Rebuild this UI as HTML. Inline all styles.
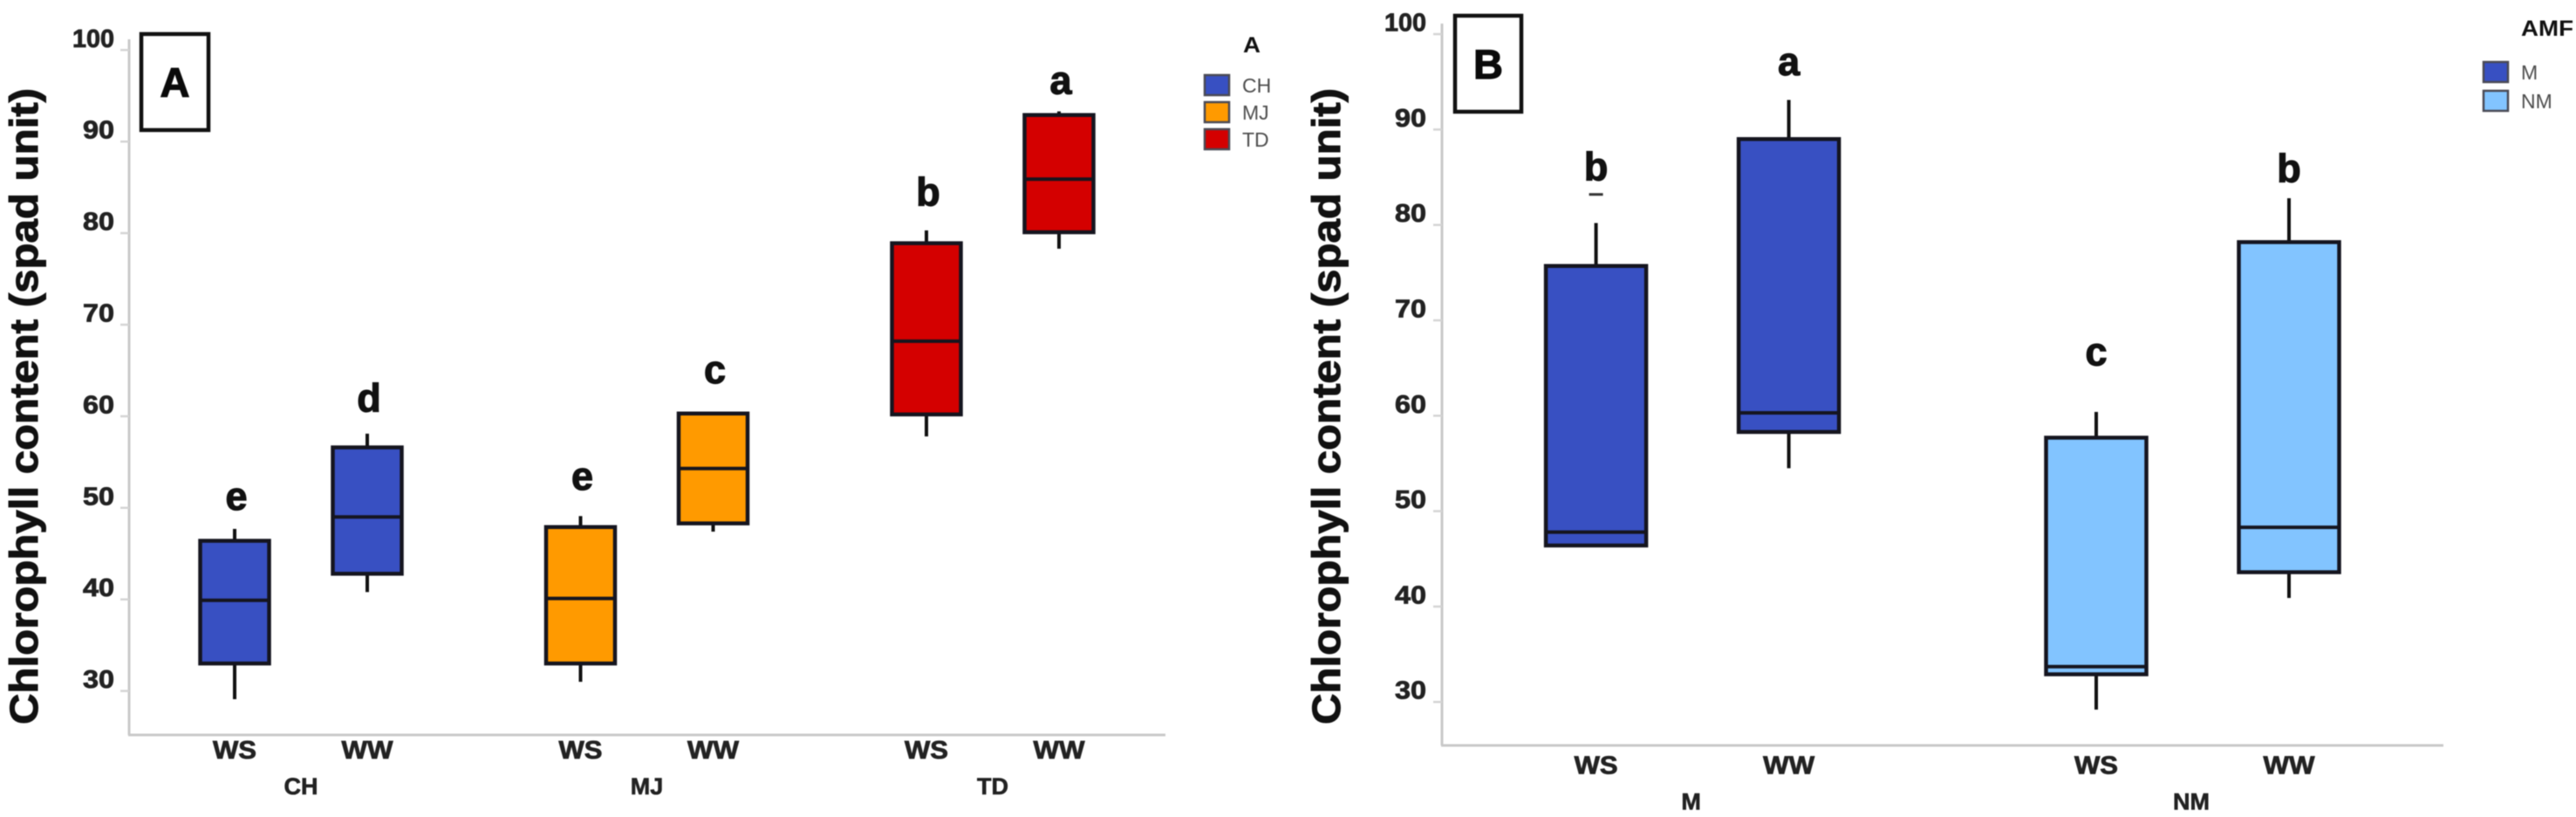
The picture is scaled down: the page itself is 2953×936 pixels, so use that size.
<!DOCTYPE html>
<html lang="en">
<head>
<meta charset="utf-8">
<title>Chlorophyll content boxplots</title>
<style>
html,body{margin:0;padding:0;background:#fff;width:2953px;height:936px;overflow:hidden}
svg{display:block;filter:blur(0.6px)}
text{font-family:"Liberation Sans",Arial,sans-serif}
</style>
</head>
<body>
<svg id="figure" xmlns="http://www.w3.org/2000/svg" width="2953" height="936" viewBox="0 0 2953 936"></svg>
<script>
var yTickLabels = [30, 40, 50, 60, 70, 80, 90, 100];

var aGroups = ['CH', 'MJ', 'TD'];
var aTreatments = ['WS', 'WW'];
var aLow = [29.1, 40.8, 31.0, 47.4, 57.8, 78.3];
var aQ1 = [33.0, 42.8, 33.0, 48.3, 60.2, 80.1];
var aMedian = [39.9, 49.0, 40.1, 54.3, 68.2, 85.9];
var aQ3 = [46.4, 56.6, 47.9, 60.3, 78.9, 92.9];
var aHigh = [47.7, 58.1, 49.1, 60.3, 80.3, 93.3];
var aLetters = ['e', 'd', 'e', 'c', 'b', 'a'];
var aLetterLevels = [49.8, 60.5, 52.0, 63.6, 83.0, 95.2];

var bGroups = ['M', 'NM'];
var bTreatments = ['WS', 'WW'];
var bLow = [46.4, 54.5, 29.2, 40.9];
var bQ1 = [46.4, 58.3, 32.9, 43.6];
var bMedian = [47.8, 60.3, 33.7, 48.3];
var bQ3 = [75.7, 89.0, 57.7, 78.2];
var bHigh = [80.2, 93.1, 60.4, 82.8];
var bOutliers = [83.2, null, null, null];
var bLetters = ['b', 'a', 'c', 'b'];
var bLetterLevels = [84.7, 95.7, 65.3, 84.5];

var SVG_NS = 'http://www.w3.org/2000/svg';
var root = document.getElementById('figure');

function make(tag, parent, name, attrs) {
  var el = document.createElementNS(SVG_NS, tag);
  
  
  for (var k in attrs) { el.setAttribute(k, attrs[k]); }
  parent.appendChild(el);
  return el;
}
function label(parent, name, str, x, y, size, opts) {
  opts = opts || {};
  var attrs = {
    x: x, y: y, 'font-size': size,
    'font-weight': opts.weight || 'bold',
    'text-anchor': opts.anchor || 'middle',
    fill: opts.fill || '#1a1a1a'
  };
  if (opts.heavy) {
    attrs.stroke = attrs.fill;
    attrs['stroke-width'] = opts.heavy;
  }
  if (opts.len) {
    attrs.textLength = opts.len;
    attrs.lengthAdjust = 'spacingAndGlyphs';
  }
  if (opts.transform) { attrs.transform = opts.transform; }
  var el = make('text', parent, name, attrs);
  el.textContent = str;
  return el;
}

function drawPanel(cfg) {
  var g = make('g', root, cfg.id + '-panel', {});
  function y(v) { return cfg.y30 - (v - 30) * cfg.yPerUnit; }
  function x(groupIndex, subIndex) { return cfg.x0 + cfg.groupStep * groupIndex + cfg.subStep * subIndex; }

  make('line', g, cfg.id + '-y-axis', {x1: cfg.axisX, x2: cfg.axisX, y1: cfg.axisTop, y2: cfg.axisBottom, stroke: '#c9c9c9', 'stroke-width': 3});
  make('line', g, cfg.id + '-x-axis', {x1: cfg.axisX - 1, x2: cfg.axisRight, y1: cfg.axisBottom, y2: cfg.axisBottom, stroke: '#c9c9c9', 'stroke-width': 3});

  yTickLabels.forEach(function (t) {
    make('line', g, cfg.id + '-y-tick-' + t, {x1: cfg.axisX - 10, x2: cfg.axisX, y1: y(t), y2: y(t), stroke: '#d4d4d4', 'stroke-width': 2.5});
    label(g, cfg.id + '-y-tick-label-' + t, String(t), cfg.labelRight, y(t) - 3.5, 29, {anchor: 'end', fill: '#222', len: t === 100 ? 48 : 36, heavy: 0.8});
  });

  label(g, cfg.id + '-y-axis-title', 'Chlorophyll content (spad unit)', cfg.titleX, 830, 45, {anchor: 'start', fill: '#111', len: 729, heavy: 1, transform: 'rotate(-90 ' + cfg.titleX + ' 830)'});

  cfg.groups.forEach(function (name, gi) {
    cfg.treatments.forEach(function (tr, si) {
      var i = gi * cfg.treatments.length + si;
      var cx = x(gi, si);
      var box = make('g', g, cfg.id + '-box-' + name + '-' + tr, {});
      var hw = cfg.boxWidth / 2;
      var fill = cfg.colors[cfg.colorIndex(gi)];
      make('line', box, 'whisker-low', {x1: cx, x2: cx, y1: y(cfg.q1[i]), y2: y(cfg.low[i]), stroke: '#111', 'stroke-width': 4});
      make('line', box, 'whisker-high', {x1: cx, x2: cx, y1: y(cfg.q3[i]), y2: y(cfg.high[i]), stroke: '#111', 'stroke-width': 4});
      make('rect', box, 'box-body', {x: cx - hw, y: y(cfg.q3[i]), width: cfg.boxWidth, height: y(cfg.q1[i]) - y(cfg.q3[i]), fill: fill, stroke: '#15151f', 'stroke-width': 4.5});
      make('line', box, 'median-line', {x1: cx - hw, x2: cx + hw, y1: y(cfg.median[i]), y2: y(cfg.median[i]), stroke: '#15151f', 'stroke-width': 4});
      if (cfg.outliers && cfg.outliers[i] !== null) {
        make('line', box, 'outlier-mark', {x1: cx - 8, x2: cx + 8, y1: y(cfg.outliers[i]), y2: y(cfg.outliers[i]), stroke: '#333', 'stroke-width': 3});
      }
      label(g, cfg.id + '-significance-' + name + '-' + tr, cfg.letters[i], cx + cfg.letterDx, y(cfg.letterLevels[i]), 45, {fill: '#111', heavy: 1.2});
      label(g, cfg.id + '-x-tick-' + name + '-' + tr, tr, cx, cfg.tickBaseline, 29, {fill: '#222', len: tr === 'WS' ? 50 : 59, heavy: 0.8});
    });
    var groupX = (x(gi, 0) + x(gi, 1)) / 2 + cfg.groupDx;
    label(g, cfg.id + '-group-label-' + name, name, groupX, cfg.groupBaseline, 27, {fill: '#222', heavy: 0.6});
  });

  make('rect', g, cfg.id + '-panel-tag-box', {x: cfg.tag.x, y: cfg.tag.y, width: cfg.tag.w, height: cfg.tag.h, fill: '#fff', stroke: '#111', 'stroke-width': 4.5});
  label(g, cfg.id + '-panel-tag', cfg.tag.text, cfg.tag.x + cfg.tag.w / 2, cfg.tag.y + cfg.tag.h / 2 + 17, 47, {fill: '#0a0a0a', heavy: 1.2});

  var legend = make('g', g, cfg.id + '-legend', {});
  label(legend, cfg.id + '-legend-title', cfg.legend.title, cfg.legend.titleX, cfg.legend.titleY, 25, {fill: '#111', anchor: 'start', len: cfg.legend.titleLen});
  cfg.legend.items.forEach(function (it, k) {
    var top = cfg.legend.y0 + k * cfg.legend.step;
    make('rect', legend, cfg.id + '-legend-swatch-' + it, {x: cfg.legend.x, y: top, width: 28, height: 23, fill: cfg.colors[k], stroke: '#4a4a55', 'stroke-width': 2.5});
    label(legend, cfg.id + '-legend-label-' + it, it, cfg.legend.textX, top + 20, 23, {anchor: 'start', weight: 'normal', fill: '#4d4d4d'});
  });
}

drawPanel({
  id: 'panel-a', y30: 791.6, yPerUnit: 10.49,
  x0: 269, groupStep: 396.5, subStep: 152,
  axisX: 148, axisTop: 45, axisBottom: 842, axisRight: 1336,
  labelRight: 131, titleX: 43, boxWidth: 79, letterDx: 2,
  tickBaseline: 869, groupBaseline: 910, groupDx: 0,
  groups: aGroups, treatments: aTreatments,
  colors: ['#3850c2', '#ff9a00', '#d40000'],
  colorIndex: function (gi) { return gi; },
  low: aLow, q1: aQ1, median: aMedian, q3: aQ3, high: aHigh,
  letters: aLetters, letterLevels: aLetterLevels,
  tag: {x: 162, y: 39, w: 77, h: 110, text: 'A'},
  legend: {title: 'A', titleX: 1425, titleY: 60, titleLen: 20, items: aGroups, x: 1381, y0: 86, step: 31, textX: 1424}
});

drawPanel({
  id: 'panel-b', y30: 804.2, yPerUnit: 10.93,
  x0: 1829.6, groupStep: 573.4, subStep: 221,
  axisX: 1653, axisTop: 27, axisBottom: 854, axisRight: 2801,
  labelRight: 1635, titleX: 1536, boxWidth: 115, letterDx: 0,
  tickBaseline: 886.5, groupBaseline: 927.6, groupDx: -1.5,
  groups: bGroups, treatments: bTreatments,
  colors: ['#3850c2', '#82c4ff'],
  colorIndex: function (gi) { return gi; },
  low: bLow, q1: bQ1, median: bMedian, q3: bQ3, high: bHigh, outliers: bOutliers,
  letters: bLetters, letterLevels: bLetterLevels,
  tag: {x: 1668, y: 18, w: 76, h: 110, text: 'B'},
  legend: {title: 'AMF', titleX: 2890, titleY: 41, titleLen: 60, items: bGroups, x: 2847, y0: 71, step: 33, textX: 2890}
});
</script>
</body>
</html>
